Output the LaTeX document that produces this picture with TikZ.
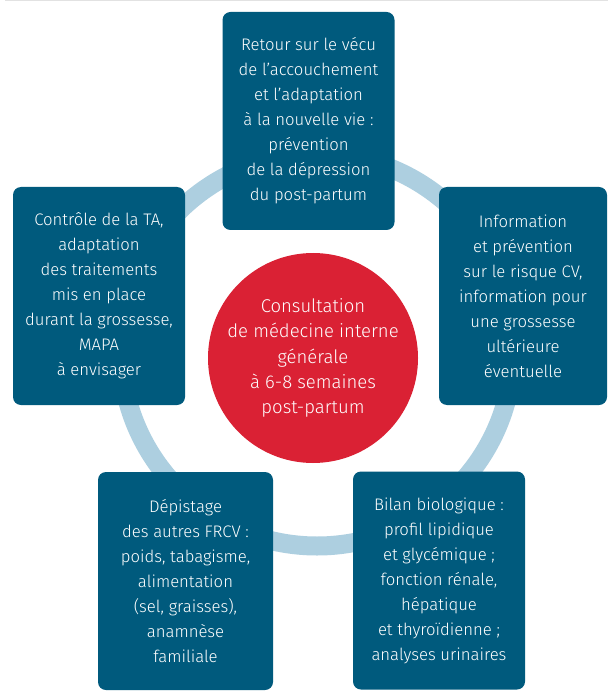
\documentclass[tikz,border=0pt]{standalone}
\usepackage{fontspec}
\setmainfont{Fira Sans}[UprightFont={* Light}]
\definecolor{boxblue}{HTML}{005A7D}
\definecolor{ringblue}{HTML}{ADCFE0}
\definecolor{corered}{HTML}{DA2134}
\definecolor{rulegrey}{HTML}{E2E2E2}
\begin{document}
\begin{tikzpicture}[x=1pt,y=-1pt,
  card/.style={rectangle, rounded corners=8pt, fill=boxblue, text=white,
    minimum width=172pt, minimum height=218pt, inner sep=0pt,
    align=center, font=\fontsize{16.7}{25}\selectfont},
  core/.style={circle, fill=corered, text=white, minimum size=210pt,
    inner sep=0pt, align=center, font=\fontsize{18.5}{25.2}\selectfont},
  ring/.style={draw=ringblue, line width=19pt}]
\useasboundingbox (0,0) rectangle (608,692);
\fill[white] (0,0) rectangle (608,692);
\draw[rulegrey, line width=1pt] (5,0.5) -- (608,0.5);

% background ring linking the five cards
\coordinate (hub) at (317,350);
\draw[ring] (hub) circle[radius=196pt];

% the five cards
\node[card] (top) at (308.5,121) {Retour sur le vécu\\de l’accouchement\\et l’adaptation\\à la nouvelle vie :\\prévention\\de la dépression\\du post-partum};
\node[card] (left) at (99,296) {Contrôle de la TA,\\adaptation\\des traitements\\mis en place\\durant la grossesse,\\MAPA\\à envisager};
\node[card, minimum width=168pt] (right) at (523,296) {Information\\et prévention\\sur le risque CV,\\information pour\\une grossesse\\ultérieure\\éventuelle};
\node[card, minimum width=175pt] (botleft) at (185.5,581) {Dépistage\\des autres FRCV :\\poids, tabagisme,\\alimentation\\(sel, graisses),\\anamnèse\\familiale};
\node[card] (botright) at (439,580.5) {Bilan biologique :\\profil lipidique\\et glycémique ;\\fonction rénale,\\hépatique\\et thyroïdienne ;\\analyses urinaires};

% central consultation disc
\node[core] (center) at (313,358) {Consultation\\de médecine interne\\générale\\à 6-8 semaines\\post-partum};
\end{tikzpicture}
\end{document}
